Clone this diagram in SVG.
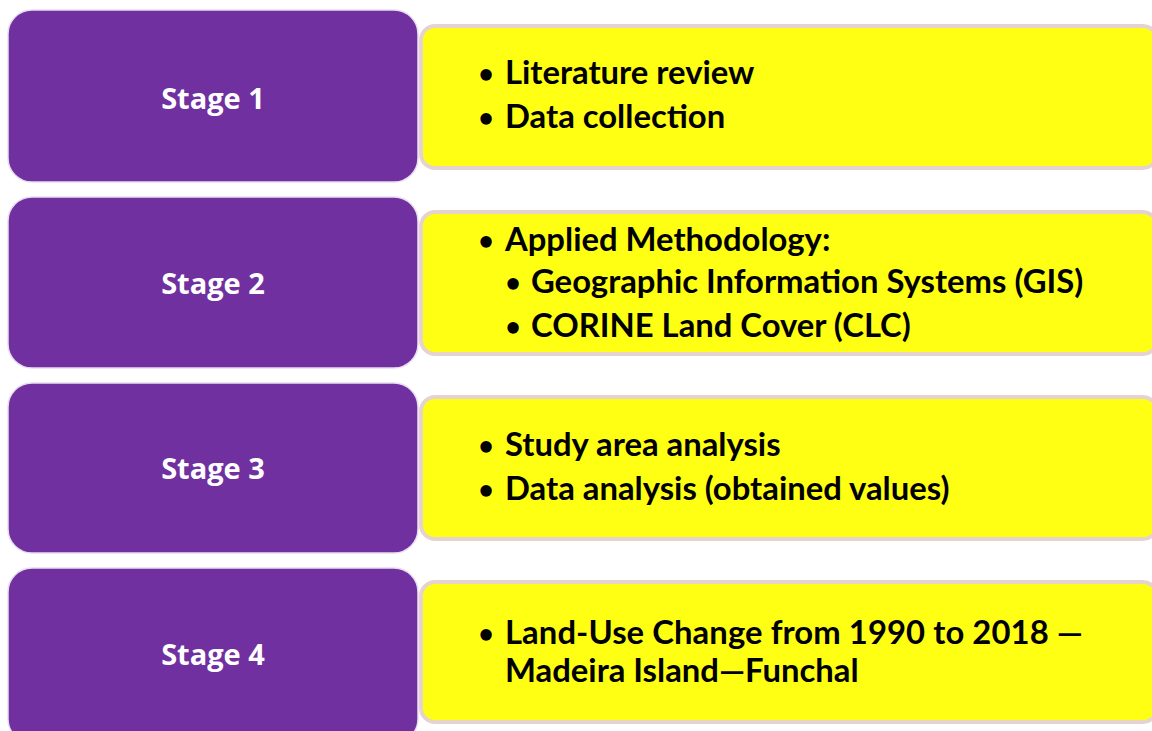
<svg xmlns="http://www.w3.org/2000/svg" width="1152" height="731" viewBox="0 0 1152 731">
  <style>
    .stage { fill: #7030a0; stroke: #e9dcef; stroke-width: 1.5; }
    .panel { fill: #ffff14; stroke: #e6d3cf; stroke-width: 4; }
    .label { font-family: "Open Sans", "Liberation Sans", sans-serif; font-weight: bold; font-size: 29px; fill: #ffffff; text-anchor: middle; dominant-baseline: central; }
    .item { font-family: Lato, "Liberation Sans", sans-serif; font-weight: bold; font-size: 32.8px; fill: #000000; }
    .dot { font-family: Lato, "Liberation Sans", sans-serif; font-weight: bold; font-size: 26px; fill: #000000; text-anchor: middle; }
  </style>
  <rect width="1152" height="731" fill="#ffffff"/>

  <g id="stage1">
    <rect class="panel" x="421" y="26" width="736" height="142" rx="14"/>
    <rect class="stage" x="8" y="10" width="410" height="172" rx="24"/>
    <text class="label" x="213" y="97">Stage 1</text>
    <text class="dot" x="486" y="83">•</text>
    <text class="item" x="505" y="84">Literature review</text>
    <text class="dot" x="486" y="127">•</text>
    <text class="item" x="505" y="128">Data collection</text>
  </g>

  <g id="stage2">
    <rect class="panel" x="421" y="212" width="736" height="142" rx="14"/>
    <rect class="stage" x="8" y="197" width="410" height="171" rx="24"/>
    <text class="label" x="213" y="282">Stage 2</text>
    <text class="dot" x="486" y="250">•</text>
    <text class="item" x="505" y="251">Applied Methodology:</text>
    <text class="dot" x="513" y="292">•</text>
    <text class="item" x="531" y="293">Geographic Information Systems (GIS)</text>
    <text class="dot" x="513" y="336">•</text>
    <text class="item" x="531" y="337">CORINE Land Cover (CLC)</text>
  </g>

  <g id="stage3">
    <rect class="panel" x="421" y="397" width="736" height="142" rx="14"/>
    <rect class="stage" x="8" y="383" width="410" height="170" rx="24"/>
    <text class="label" x="213" y="467">Stage 3</text>
    <text class="dot" x="486" y="455">•</text>
    <text class="item" x="505" y="456">Study area analysis</text>
    <text class="dot" x="486" y="499">•</text>
    <text class="item" x="505" y="500">Data analysis (obtained values)</text>
  </g>

  <g id="stage4">
    <rect class="panel" x="421" y="582" width="736" height="140" rx="14"/>
    <rect class="stage" x="8" y="568" width="410" height="175" rx="24"/>
    <text class="label" x="213" y="653">Stage 4</text>
    <text class="dot" x="486" y="643">•</text>
    <text class="item" x="505" y="644" textLength="578" lengthAdjust="spacing">Land-Use Change from 1990 to 2018 —</text>
    <text class="item" x="505" y="682">Madeira Island—Funchal</text>
  </g>

  <g id="connectors"/>
</svg>
